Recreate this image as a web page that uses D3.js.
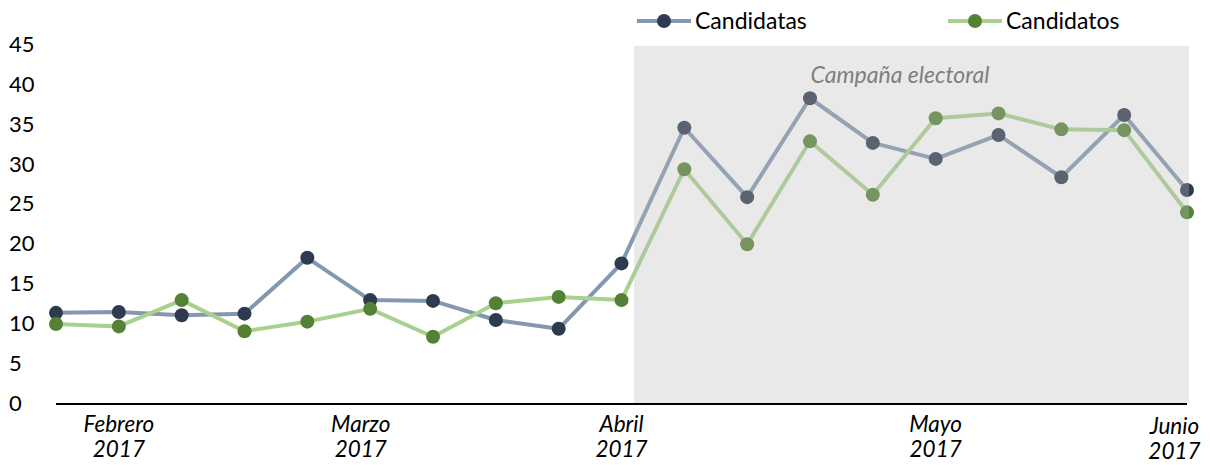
<!DOCTYPE html>
<html>
<head>
<meta charset="utf-8">
<script src="https://cdn.jsdelivr.net/npm/d3@7"></script>
<style>
  body { margin: 0; background: #fff; }
  svg text { font-family: Lato, "Open Sans", sans-serif; }
</style>
</head>
<body>
<svg id="chart" width="1210" height="465"></svg>
<script>
// values
var candidatas = [11.3, 11.4, 11.0, 11.2, 18.2, 12.9, 12.8, 10.4, 9.3, 17.5,
                  34.5, 25.8, 38.2, 32.6, 30.6, 33.6, 28.3, 36.1, 26.7];
var candidatos = [9.9, 9.6, 12.9, 9.0, 10.2, 11.8, 8.3, 12.5, 13.3, 12.9,
                  29.3, 19.9, 32.8, 26.1, 35.7, 36.3, 34.3, 34.2, 23.9];
var monthLabels = ["Febrero", "Marzo", "Abril", "Mayo", "Junio"];
var monthPos = [1, 4.85, 9, 14, 17.8];   // in point index units
var yTicks = [0, 5, 10, 15, 20, 25, 30, 35, 40, 45];

var svg = d3.select("#chart");

var x = d3.scaleLinear().domain([0, candidatas.length - 1]).range([56, 1187]);
var y = d3.scaleLinear().domain([0, 45]).range([403, 44]);

var series = [
    { name: "Candidatas", values: candidatas, line: "#8497b0", dot: "#2e3a4f" },
    { name: "Candidatos", values: candidatos, line: "#a9d18e", dot: "#548235" }
];

// y labels
svg.append("g").selectAll("text")
    .data(yTicks)
    .enter()
    .append("text")
    .attr("x", 9)
    .attr("y", d => y(d))
    .attr("dy", "0.36em")
    .style("font-size", "22px")
    .attr("fill", "#000")
    .text(d => d);

var line = d3.line()
    .x((d, i) => x(i))
    .y(d => y(d));

series.forEach(function (s) {
    svg.append("path")
        .datum(s.values)
        .attr("d", line)
        .attr("fill", "none")
        .attr("stroke", s.line)
        .attr("stroke-width", 4)
        .attr("stroke-linejoin", "round");
    svg.append("g").selectAll("circle")
        .data(s.values)
        .enter()
        .append("circle")
        .attr("cx", (d, i) => x(i))
        .attr("cy", d => y(d))
        .attr("r", 7)
        .attr("fill", s.dot);
});

// campaign shading drawn on top, semi transparent
svg.append("rect")
    .attr("x", 634)
    .attr("y", 46)
    .attr("width", 1189 - 634)
    .attr("height", 403 - 46)
    .attr("fill", "rgb(186,186,186)")
    .attr("fill-opacity", 0.32);

svg.append("text")
    .attr("x", 900)
    .attr("y", 83)
    .attr("text-anchor", "middle")
    .style("font-size", "23px")
    .style("font-style", "italic")
    .attr("fill", "#7f7f7f")
    .text("Campaña electoral");

// x axis line
svg.append("line")
    .attr("x1", x(0)).attr("x2", x(candidatas.length - 1))
    .attr("y1", 404).attr("y2", 404)
    .attr("stroke", "#000")
    .attr("stroke-width", 2);

var xl = svg.append("g").selectAll("text")
    .data(monthLabels)
    .enter()
    .append("text")
    .attr("text-anchor", "middle")
    .style("font-size", "22.5px")
    .style("font-style", "italic")
    .attr("fill", "#000")
    .attr("transform", (d, i) => "translate(" + x(monthPos[i]) + "," + (i == monthLabels.length - 1 ? 2 : 0) + ")");
xl.append("tspan").attr("x", 0).attr("y", 432).text(d => d);
xl.append("tspan").attr("x", 0).attr("y", 457).text("2017");

// legend
var leg = svg.append("g").selectAll("g")
    .data(series)
    .enter()
    .append("g")
    .attr("transform", (d, i) => "translate(" + (i == 0 ? 637 : 948) + ",21)");
leg.append("line")
    .attr("x1", 0).attr("x2", 54)
    .attr("stroke", d => d.line)
    .attr("stroke-width", 4);
leg.append("circle")
    .attr("cx", 27).attr("r", 7)
    .attr("fill", d => d.dot);
leg.append("text")
    .attr("x", 58)
    .attr("y", 0)
    .attr("dy", "0.36em")
    .style("font-size", "23px")
    .attr("fill", "#000")
    .text(d => d.name);
</script>
</body>
</html>
